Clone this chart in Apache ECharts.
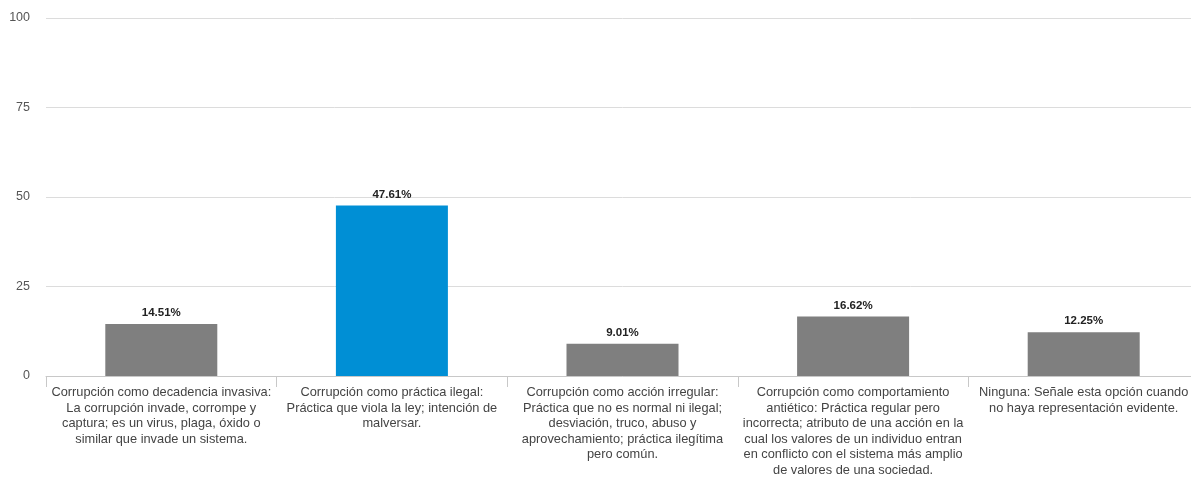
<!DOCTYPE html>
<html>
<head>
<meta charset="utf-8">
<script src="https://cdn.jsdelivr.net/npm/echarts@6/dist/echarts.min.js"></script>
<style>html,body{margin:0;padding:0;background:#fff;overflow:hidden;width:1191px;height:497px;}#c{width:1199px;height:497px;}</style>
</head>
<body>
<div id="c"></div>
<script>
const categories = [
  "Corrupción como decadencia invasiva:\nLa corrupción invade, corrompe y\ncaptura; es un virus, plaga, óxido o\nsimilar que invade un sistema.",
  "Corrupción como práctica ilegal:\nPráctica que viola la ley; intención de\nmalversar.",
  "Corrupción como acción irregular:\nPráctica que no es normal ni ilegal;\ndesviación, truco, abuso y\naprovechamiento; práctica ilegítima\npero común.",
  "Corrupción como comportamiento\nantiético: Práctica regular pero\nincorrecta; atributo de una acción en la\ncual los valores de un individuo entran\nen conflicto con el sistema más amplio\nde valores de una sociedad.",
  "Ninguna: Señale esta opción cuando\nno haya representación evidente."
];
const values = [14.51, 47.61, 9.01, 16.62, 12.25];
const highlightIndex = 1;
const yTicks = [0, 25, 50, 75, 100];

const chart = echarts.init(document.getElementById('c'), null, {renderer: 'canvas'});
chart.setOption({
  animation: false,
  backgroundColor: '#fff',
  grid: {left: 46, right: 0, top: 18, bottom: 121},
  xAxis: {
    type: 'category',
    data: categories,
    axisLine: {show: true, lineStyle: {color: '#c8c8c8', width: 1}},
    axisTick: {show: true, length: 11, lineStyle: {color: '#c8c8c8'}},
    axisLabel: {
      interval: 0, margin: 9, color: '#444',
      fontFamily: 'Liberation Sans, Arial, sans-serif', fontSize: 12.8, lineHeight: 15.5,
      align: 'center'
    }
  },
  yAxis: {
    type: 'value', min: yTicks[0], max: yTicks[yTicks.length - 1], interval: 25,
    axisLine: {show: false}, axisTick: {show: false},
    splitLine: {lineStyle: {color: '#dcdcdc', width: 1}},
    axisLabel: {margin: 16, color: '#555', fontFamily: 'Liberation Sans, Arial, sans-serif', fontSize: 12.5}
  },
  series: [{
    type: 'bar',
    data: values.map((v, i) => ({
      value: v,
      itemStyle: {color: i === highlightIndex ? '#008fd5' : '#7f7f7f'}
    })),
    barWidth: 112,
    label: {
      show: true, position: 'top', distance: 5,
      formatter: p => p.value.toFixed(2) + '%',
      color: '#222', fontWeight: 'bold', fontSize: 11.5,
      fontFamily: 'Liberation Sans, Arial, sans-serif'
    }
  }]
});
</script>
</body>
</html>
